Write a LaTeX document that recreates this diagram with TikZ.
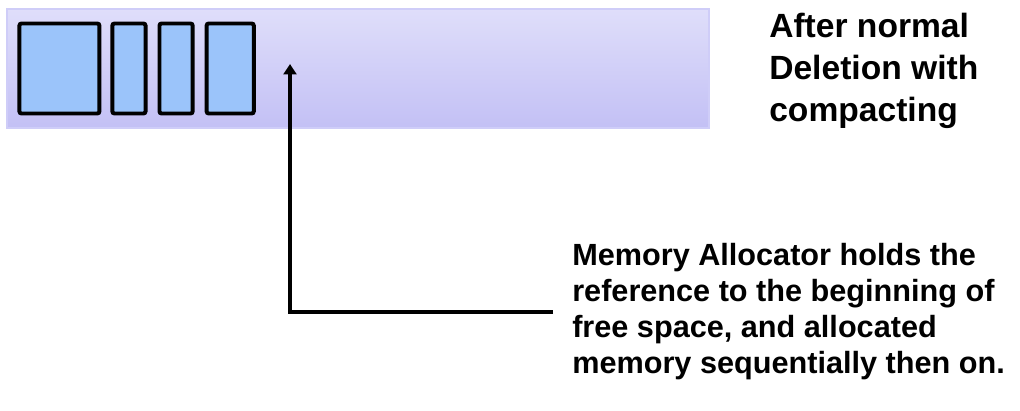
\documentclass[tikz,border=0pt]{standalone}
\usepackage{fontspec}
\setmainfont{Liberation Sans}
\usepackage{xcolor}
\usepackage{tikz}
\usetikzlibrary{arrows.meta,positioning}
\definecolor{barTop}{HTML}{DFDEFA}
\definecolor{barBottom}{HTML}{C3C0F5}
\definecolor{barEdge}{HTML}{CFCDF8}
\definecolor{blockBlue}{HTML}{9BC4FA}
\tikzset{
  freebar/.style={draw=barEdge, line width=0.8pt, top color=barTop, bottom color=barBottom, minimum width=17.55cm, minimum height=2.975cm, inner sep=0pt},
  memblock/.style={draw=black, line width=2.8pt, rounded corners=1.5pt, fill=blockBlue, minimum height=2.25cm, minimum width=#1, inner sep=0pt},
  arrflow/.style={-{Triangle[length=2.6mm, width=3.2mm]}, line width=2.4pt},
  leyenda/.style={align=left, font=\bfseries, inner sep=0pt},
}
\begin{document}
\begin{tikzpicture}
\useasboundingbox (0,0) rectangle (25.5,-10.25);

\node[freebar] (bar) at (8.95,-1.7125) {};
\node[memblock=2.0cm, right=0.275cm of bar.west] (b1) {};
\node[memblock=0.83cm, right=0.225cm of b1] (b2) {};
\node[memblock=0.83cm, right=0.25cm of b2] (b3) {};
\node[memblock=1.18cm, right=0.25cm of b3] (b4) {};

\node[leyenda, anchor=north west, font=\bfseries\fontsize{23.9pt}{29.9pt}\selectfont] (titulo) at (19.225,-0.33) {After normal\\Deletion with\\compacting};

\node[leyenda, inner xsep=0.475cm, anchor=west, font=\bfseries\fontsize{21.8pt}{25.6pt}\selectfont] (nota) at (13.825,-7.8)
  {Memory Allocator holds the\\reference to the beginning of\\free space, and allocated\\memory sequentially then on.};

\coordinate (libre) at (7.25,-1.6);
\draw[arrflow] (nota.west) -| (libre);
\end{tikzpicture}
\end{document}
